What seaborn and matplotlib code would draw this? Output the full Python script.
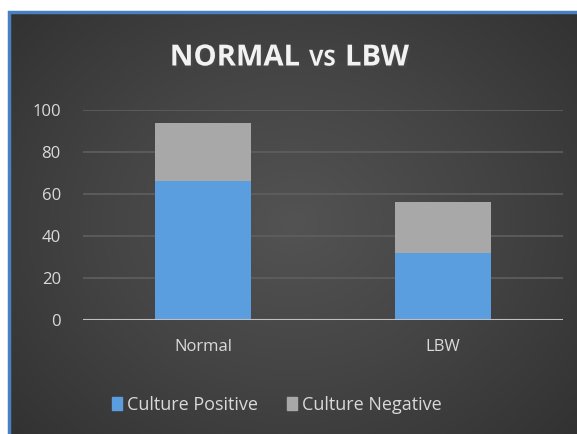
import numpy as np
import pandas as pd
import seaborn as sns
import matplotlib.pyplot as plt
import matplotlib.patheffects as pe
from matplotlib.colors import LinearSegmentedColormap
from matplotlib.patches import Patch

# Data
categories = ['Normal', 'LBW']
culture_positive = [66, 32]
culture_negative = [28, 24]

df = pd.DataFrame({'group': categories,
                   'positive': culture_positive,
                   'negative': culture_negative})
df['total'] = df['positive'] + df['negative']

blue = '#5b9ee0'
gray = '#a8a8a8'
text_col = '#d9d9d9'

sns.set_theme(style='dark')
plt.rcParams['font.family'] = ['Open Sans', 'DejaVu Sans']

fig = plt.figure(figsize=(5.77, 4.34), dpi=100)
fig.patch.set_facecolor('white')

# Chart area with a radial dark gradient, blue border on left and top
W, H = 577, 434
x0, y0 = 9, 12
bg = fig.add_axes([x0 / W, 0, 1 - x0 / W, 1 - y0 / H])
yy, xx = np.mgrid[-1:1:200j, -1:1:260j]
r = np.sqrt(xx ** 2 + (yy * 0.9) ** 2)
cmap = LinearSegmentedColormap.from_list('bg', ['#535353', '#444444', '#323232'])
bg.imshow(r, cmap=cmap, vmin=0, vmax=1.35, aspect='auto',
          extent=[0, 1, 0, 1], interpolation='bilinear')
bg.set_xlim(0, 1)
bg.set_ylim(0, 1)
bg.axis('off')
bg.plot([0, 0, 1.02], [0, 1, 1], color='#4a7fc0', lw=2.5,
        transform=bg.transAxes, clip_on=False, solid_joinstyle='miter')

# Plot area
left, right = 83, 563
top, bottom = 110, 320
ax = fig.add_axes([left / W, 1 - bottom / H, (right - left) / W, (bottom - top) / H])
ax.set_facecolor('none')

sns.barplot(data=df, x='group', y='total', color=gray, width=0.4,
            saturation=1, linewidth=0, ax=ax, zorder=3)
sns.barplot(data=df, x='group', y='positive', color=blue, width=0.4,
            saturation=1, linewidth=0, ax=ax, zorder=4)

ax.set_xlim(-0.5, 1.5)
ax.set_ylim(0, 100)
ax.set_yticks(range(0, 101, 20))
ax.grid(axis='y', color='#5f5f5f', lw=1.2, zorder=0)
ax.grid(axis='x', visible=False)
ax.axhline(0, color='#bfbfbf', lw=1.5, zorder=5)
for s in ax.spines.values():
    s.set_visible(False)
ax.set_xlabel('')
ax.set_ylabel('')
ax.tick_params(axis='y', colors=text_col, labelsize=12, length=0, pad=16)
ax.tick_params(axis='x', colors=text_col, labelsize=12, length=0, pad=14)
for lab in ax.get_yticklabels():
    lab.set_horizontalalignment('right')

# Title
shadow = [pe.withSimplePatchShadow(offset=(1.5, -1.5), alpha=0.7)]
ty = 1 - 58 / H
fig.text(300 / W, ty, 'NORMAL', fontsize=21, fontweight='bold',
         color='#f2f2f2', ha='right', va='center', path_effects=shadow)
fig.text(309 / W, ty - 0.005, 'VS', fontsize=16, fontweight='bold',
         color='#f2f2f2', ha='left', va='center', path_effects=shadow)
fig.text(345 / W, ty, 'LBW', fontsize=21, fontweight='bold',
         color='#f2f2f2', ha='left', va='center', path_effects=shadow)

# Legend
handles = [Patch(color=blue, label='Culture Positive'),
           Patch(color=gray, label='Culture Negative')]
leg = fig.legend(handles=handles, loc='center', bbox_to_anchor=(0.48, 1 - 405 / H),
                 ncol=2, frameon=False, fontsize=13, handlelength=0.55,
                 handleheight=0.7, handletextpad=0.3, columnspacing=1.6)
for t in leg.get_texts():
    t.set_color(text_col)

fig.savefig('out.png', dpi=100)
